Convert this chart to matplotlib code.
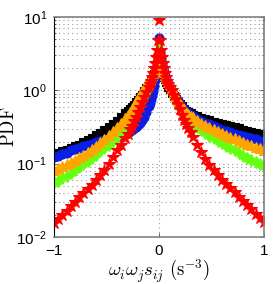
import numpy as np
import matplotlib
matplotlib.use("Agg")
import matplotlib.pyplot as plt
from matplotlib.ticker import FixedLocator, LogLocator, NullFormatter

plt.rcParams['mathtext.fontset'] = 'custom'
plt.rcParams['mathtext.rm'] = 'Liberation Sans'
plt.rcParams['mathtext.it'] = 'Liberation Sans:italic'
plt.rcParams['font.family'] = ['Liberation Sans', 'DejaVu Sans']

# bin centres of omega_i omega_j s_ij (finer near the cusp)
x_bins = [-1.00, -0.96, -0.92, -0.88, -0.84, -0.80, -0.76, -0.72, -0.68, -0.64,
          -0.60, -0.56, -0.52, -0.48, -0.44, -0.40, -0.36, -0.32,
          -0.30, -0.28, -0.26, -0.24, -0.22, -0.20, -0.18, -0.16, -0.14, -0.12,
          -0.10, -0.09, -0.08, -0.07, -0.06, -0.05, -0.04, -0.03, -0.02, -0.01,
          0.00,
          0.01, 0.02, 0.03, 0.04, 0.05, 0.06, 0.07, 0.08, 0.09, 0.10,
          0.12, 0.14, 0.16, 0.18, 0.20, 0.22, 0.24, 0.26, 0.28, 0.30,
          0.32, 0.36, 0.40, 0.44, 0.48, 0.52, 0.56, 0.60, 0.64, 0.68,
          0.72, 0.76, 0.80, 0.84, 0.88, 0.92, 0.96, 1.00]

# log10(PDF)
black_log10 = [-0.87, -0.85, -0.83, -0.81, -0.79, -0.765, -0.74, -0.71, -0.68, -0.65,
               -0.615, -0.58, -0.54, -0.50, -0.46, -0.42, -0.37, -0.315,
               -0.285, -0.255, -0.225, -0.195, -0.16, -0.13, -0.095, -0.06, -0.015, 0.03,
               0.08, 0.105, 0.13, 0.16, 0.19, 0.22, 0.245, 0.27, 0.30, 0.33,
               0.36,
               0.33, 0.29, 0.255, 0.22, 0.185, 0.15, 0.115, 0.08, 0.05, 0.02,
               -0.03, -0.075, -0.12, -0.155, -0.19, -0.22, -0.25, -0.275, -0.295, -0.315,
               -0.33, -0.355, -0.375, -0.395, -0.41, -0.43, -0.445, -0.46, -0.475, -0.49,
               -0.505, -0.52, -0.535, -0.55, -0.565, -0.58, -0.595, -0.61]
blue_log10 = [-0.91, -0.89, -0.87, -0.85, -0.82, -0.80, -0.78, -0.76, -0.74, -0.725,
              -0.71, -0.695, -0.68, -0.665, -0.65, -0.63, -0.61, -0.59,
              -0.575, -0.56, -0.54, -0.52, -0.50, -0.47, -0.44, -0.40, -0.36, -0.30,
              -0.22, -0.17, -0.12, -0.07, -0.01, 0.06, 0.14, 0.23, 0.34, 0.48,
              0.72,
              0.52, 0.43, 0.36, 0.30, 0.25, 0.20, 0.16, 0.12, 0.08, 0.04,
              -0.01, -0.06, -0.11, -0.15, -0.19, -0.23, -0.26, -0.29, -0.31, -0.33,
              -0.35, -0.39, -0.415, -0.44, -0.465, -0.49, -0.515, -0.535, -0.555, -0.57,
              -0.59, -0.61, -0.625, -0.64, -0.655, -0.67, -0.69, -0.70]
green_log10 = [-1.25, -1.23, -1.20, -1.17, -1.13, -1.08, -1.04, -1.00, -0.96, -0.92,
               -0.88, -0.83, -0.79, -0.74, -0.69, -0.635, -0.57, -0.50,
               -0.46, -0.425, -0.39, -0.35, -0.30, -0.26, -0.20, -0.14, -0.09, -0.03,
               0.03, 0.07, 0.11, 0.155, 0.20, 0.25, 0.30, 0.36, 0.43, 0.50,
               0.62,
               0.50, 0.42, 0.35, 0.29, 0.24, 0.19, 0.14, 0.10, 0.06, 0.02,
               -0.04, -0.10, -0.16, -0.21, -0.25, -0.29, -0.33, -0.365, -0.40, -0.425,
               -0.45, -0.50, -0.54, -0.58, -0.62, -0.655, -0.69, -0.72, -0.755, -0.79,
               -0.82, -0.855, -0.89, -0.92, -0.95, -0.98, -1.00, -1.03]
orange_log10 = [-1.09, -1.06, -1.03, -1.00, -0.975, -0.945, -0.91, -0.875, -0.84, -0.80,
                -0.76, -0.71, -0.66, -0.61, -0.56, -0.505, -0.445, -0.38,
                -0.34, -0.30, -0.255, -0.21, -0.15, -0.105, -0.06, -0.015, 0.035, 0.085,
                0.135, 0.16, 0.185, 0.21, 0.24, 0.26, 0.29, 0.32, 0.35, 0.38,
                0.41,
                0.38, 0.345, 0.31, 0.28, 0.245, 0.21, 0.18, 0.15, 0.12, 0.09,
                0.03, -0.025, -0.08, -0.13, -0.18, -0.22, -0.26, -0.29, -0.32, -0.345,
                -0.37, -0.41, -0.445, -0.475, -0.50, -0.525, -0.555, -0.58, -0.605, -0.63,
                -0.655, -0.68, -0.705, -0.725, -0.75, -0.77, -0.79, -0.81]
red_log10 = [-1.81, -1.76, -1.70, -1.64, -1.58, -1.52, -1.46, -1.40, -1.35, -1.29,
             -1.22, -1.155, -1.085, -1.00, -0.91, -0.82, -0.74, -0.645,
             -0.59, -0.53, -0.48, -0.42, -0.36, -0.30, -0.23, -0.16, -0.09, -0.02,
             0.04, 0.08, 0.13, 0.18, 0.24, 0.30, 0.37, 0.45, 0.55, 0.69,
             0.96,
             0.69, 0.55, 0.45, 0.37, 0.30, 0.24, 0.18, 0.13, 0.08, 0.04,
             0.00, -0.06, -0.12, -0.19, -0.26, -0.33, -0.40, -0.46, -0.51, -0.57,
             -0.63, -0.74, -0.84, -0.93, -1.02, -1.09, -1.16, -1.22, -1.28, -1.335,
             -1.39, -1.45, -1.51, -1.565, -1.62, -1.68, -1.745, -1.80]

series = [
    (black_log10, 'black', 's', 5.5),
    (blue_log10, '#0a1ee6', 'o', 6.5),
    (green_log10, '#66ff11', 'd', 6.5),
    (orange_log10, '#ffa500', '^', 7.0),
    (red_log10, '#ff0000', '*', 9.0),
]

fig = plt.figure(figsize=(2.74, 2.84), dpi=100)
ax = fig.add_axes([54/274, 47/284, 210/274, 220/284])

xb = np.array(x_bins)
for vals, col, mk, ms in series:
    ax.plot(xb, 10 ** np.array(vals), linestyle='none', color=col, marker=mk,
            markersize=ms, markeredgecolor=col, markerfacecolor=col,
            markeredgewidth=0.8)

ax.set_yscale('log')
ax.set_xlim(-1, 1)
ax.set_ylim(1e-2, 1e1)
ax.xaxis.set_major_locator(FixedLocator([-1, 0, 1]))
ax.set_xticklabels(['\u22121', '0', '1'])
ax.yaxis.set_minor_locator(LogLocator(base=10, subs=np.arange(2, 10), numticks=20))
ax.yaxis.set_minor_formatter(NullFormatter())
ax.set_yticks([1e-2, 1e-1, 1e0, 1e1])
ax.set_yticklabels([r'$10^{-2}$', r'$10^{-1}$', r'$10^{0}$', r'$10^{1}$'])

ax.grid(True, which='major', axis='both', linestyle=(0, (1, 3)), color='#999999', linewidth=0.8)
ax.grid(True, which='minor', axis='y', linestyle=(0, (1, 3)), color='#999999', linewidth=0.8)
ax.set_axisbelow(True)
ax.tick_params(axis='both', which='both', direction='in', top=True, right=True,
               labelsize=11, length=3, width=0.6, colors='#444444', labelcolor='black', pad=5)
ax.tick_params(axis='both', which='minor', length=1.5)
for side in ['top', 'right', 'bottom']:
    ax.spines[side].set_color('#808080')
    ax.spines[side].set_linewidth(1.2)
ax.spines['left'].set_color('black')

ax.set_xlabel(r'$\omega_i\omega_j s_{ij}\ (\mathrm{s}^{-3})$', fontsize=13.5,
              math_fontfamily='cm')
ax.xaxis.set_label_coords(0.5, -0.095)
ax.set_ylabel(r'$\mathrm{PDF}$', fontsize=13.5, math_fontfamily='cm')
ax.yaxis.set_label_coords(-0.17, 0.5)

fig.savefig('out.png', dpi=100)
